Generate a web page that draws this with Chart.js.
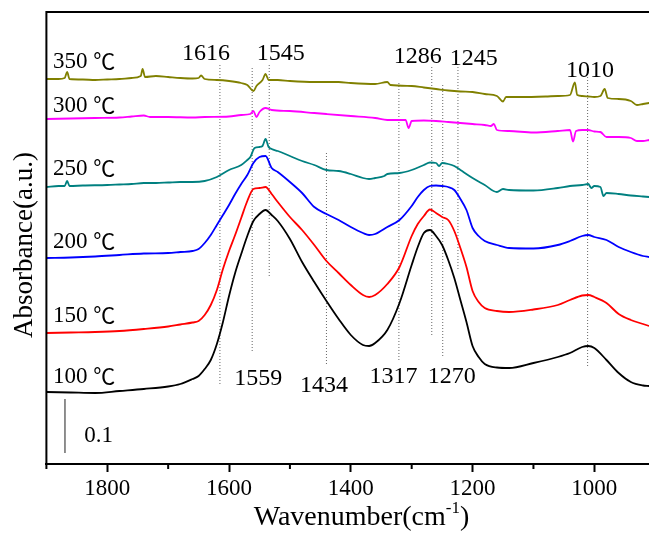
<!DOCTYPE html>
<html>
<head>
<meta charset="utf-8">
<script src="https://cdn.jsdelivr.net/npm/chart.js@4.4.1/dist/chart.umd.min.js"></script>
<style>
  html, body { margin: 0; padding: 0; overflow: hidden; background: #fff; }
  canvas { display: block; }
</style>
</head>
<body>
<canvas id="irChart" width="700" height="535"></canvas>
<script>
// In-situ IR spectra after desorption at several temperatures.
// Curves are stacked with an offset; heights are in arbitrary units
// (the "0.1" bar is 54 units tall).

// shared wavenumber grid for the three smooth low-temperature spectra
const wavenumbers = [1900, 1860, 1820, 1780, 1740, 1700, 1680, 1660, 1650, 1640,
    1630, 1620, 1610, 1600, 1590, 1580, 1570, 1560, 1550, 1540,
    1530, 1520, 1500, 1480, 1460, 1440, 1420, 1400, 1380, 1370,
    1360, 1340, 1320, 1300, 1290, 1280, 1270, 1260, 1250, 1240,
    1230, 1220, 1210, 1200, 1190, 1180, 1160, 1140, 1100, 1060,
    1040, 1020, 1010, 1000, 980, 960, 940, 920, 910];

const abs100 = [72, 71.5, 71, 73, 75, 77.5, 80, 85, 88, 95,
    104, 120, 142, 168, 191, 210, 228, 243, 250, 254,
    249, 243, 225, 202, 182, 163, 145, 129, 119, 118,
    121, 134, 161, 199, 217, 231, 234, 228, 219, 204,
    186, 164, 142, 118, 107, 100, 96.5, 96, 101, 107,
    111, 117, 118, 116, 104, 91, 82, 78.5, 78];

const abs150 = [131, 131.5, 132, 133, 135, 137.5, 139.5, 141.5, 143, 149,
    159, 174, 195, 213, 229, 246, 263, 275, 276, 277,
    270, 262, 247, 234, 219, 203, 191, 179, 169, 167,
    169, 180, 197, 228, 240, 248, 254.5, 251, 247, 244,
    233, 216, 197, 173, 162, 156, 153, 152, 154.5, 159,
    164, 168.5, 169, 167, 161, 150, 144, 140, 138];

const abs200 = [206, 206.5, 207.5, 209, 210.5, 211, 212, 213, 215, 221,
    229, 239, 249, 259, 270, 280, 289, 301, 307, 308,
    296, 292, 282, 271, 257, 250, 244, 237, 231, 229,
    230, 237, 244, 258, 267, 274, 278, 278.5, 278, 277,
    274, 265, 254, 236, 228, 223, 219, 216, 215.5, 219,
    223, 228, 229, 227, 224, 217, 212, 208, 207];

// the noisier high-temperature spectra keep their own grids (spikes included)
const wn250 = [1900, 1880, 1870, 1866, 1862, 1840, 1800, 1780, 1760, 1740,
    1720, 1700, 1680, 1660, 1640, 1620, 1600, 1580, 1570, 1565,
    1558, 1550, 1545, 1540, 1535, 1530, 1520, 1500, 1480, 1460,
    1440, 1420, 1400, 1380, 1370, 1360, 1345, 1340, 1320, 1300,
    1280, 1270, 1260, 1255, 1250, 1240, 1230, 1220, 1200, 1180,
    1160, 1150, 1140, 1100, 1060, 1040, 1020, 1010, 1005, 1000,
    990, 985, 980, 960, 940, 920, 910];
const abs250 = [277, 278, 278, 283, 278, 278.5, 279, 279.5, 280, 281,
    281, 281.5, 282, 282, 283, 287, 294, 299, 304, 307,
    316, 317, 318, 325, 317, 315, 313, 308, 303, 299,
    294, 293, 290, 286, 285, 286, 288, 290, 291, 294,
    299, 301.5, 301, 298, 301, 300, 298, 294, 286, 279,
    272, 275, 274, 273.5, 276, 278, 279, 280, 276, 278,
    277, 268, 271, 270, 268.5, 267.5, 267];

const wn300 = [1900, 1860, 1820, 1780, 1760, 1740, 1730, 1700, 1660, 1640,
    1600, 1580, 1565, 1560, 1555, 1550, 1540, 1530, 1500, 1460,
    1440, 1400, 1360, 1340, 1310, 1305, 1300, 1280, 1260, 1240,
    1220, 1200, 1180, 1170, 1165, 1160, 1140, 1100, 1060, 1040,
    1035, 1030, 1020, 1010, 1000, 990, 980, 960, 940, 930,
    920, 910];
const abs300 = [345, 345.5, 346, 346.5, 347.5, 348.5, 347, 347, 346.5, 347,
    347.5, 349, 350, 353, 347, 352, 356, 354, 353, 351,
    350, 348, 346, 344, 344, 336, 343, 343.5, 343, 342,
    341, 340, 339, 338, 340, 334, 333, 331.5, 333, 334,
    322.5, 333, 334, 334, 332.5, 332, 327, 327, 326, 323,
    323, 324];

const wn350 = [1900, 1880, 1870, 1866, 1862, 1840, 1820, 1800, 1780, 1760,
    1745, 1742, 1738, 1720, 1700, 1680, 1660, 1650, 1646, 1640,
    1620, 1600, 1580, 1570, 1560, 1555, 1545, 1540, 1535, 1520,
    1500, 1460, 1420, 1400, 1360, 1340, 1335, 1300, 1280, 1260,
    1240, 1220, 1200, 1180, 1160, 1150, 1145, 1120, 1080, 1060,
    1040, 1032, 1028, 1020, 1010, 1000, 990, 983, 978, 960,
    940, 930, 920, 910];
const abs350 = [385, 385, 386, 392, 385, 384.5, 384, 384.5, 385, 386,
    388, 395, 387, 388, 387, 386, 385.5, 386, 388.5, 385,
    384, 383, 381, 379, 373, 378, 384, 390, 384, 384,
    383, 382, 382, 381, 380, 382, 379, 378, 376.5, 375,
    373.5, 372.5, 372, 370, 368, 362.5, 367, 367, 367.5, 368,
    369, 381.5, 369, 368, 367.5, 367, 368, 375, 366, 365,
    363, 359, 360, 361];

// curve labels (left side): temperature and baseline height
const tempLabels = ['100', '150', '200', '250', '300', '350'];
const tempUnit = '\u2103';
const tempLabelY = [81, 142, 216, 289, 352, 396];
const tempLabelWn = 1889;

// dotted guide lines: position and vertical extent
const guideWn = [1615, 1562, 1534, 1440, 1321, 1267, 1249, 1224, 1011];
const guideTop = [399, 396, 399, 311, 381, 397, 379, 397, 387];
const guideBottom = [79, 112, 186, 99, 104, 129, 107, 194, 96];

// band labels above and below the spectra (centre wavenumber, baseline height)
const topBands = ['1616', '1545', '1286', '1245', '1010'];
const topBandWn = [1638, 1515, 1290, 1198, 1007];
const topBandY = [404, 404, 401, 399, 387];
const bottomBands = ['1559', '1434', '1317', '1270'];
const bottomBandWn = [1552, 1444, 1330, 1234];
const bottomBandY = [79, 72, 81, 81];

// 0.1 absorbance scale bar
const scaleBarWn = 1869.5;
const scaleBarY = [11, 65];
const scaleBarText = '0.1';
const scaleBarTextWn = 1838;
const scaleBarTextY = 22;

const xMajorTicks = [1000, 1200, 1400, 1600, 1800];
const xMinorTicks = [900, 1100, 1300, 1500, 1700, 1900];

const FONT = "'Liberation Serif', serif";
const UNIT_FONT = "'Noto Sans CJK SC', 'DejaVu Sans', sans-serif";

function pairs(xs, ys) {
    return xs.map(function (w, i) { return { x: w, y: ys[i] }; });
}

function curve(label, xs, ys, color) {
    return {
        label: label,
        data: pairs(xs, ys),
        borderColor: color,
        borderWidth: 1.8,
        pointRadius: 0,
        cubicInterpolationMode: 'monotone',
        fill: false,
        order: 0
    };
}

const datasets = [
    curve('100', wavenumbers, abs100, '#000000'),
    curve('150', wavenumbers, abs150, '#ff0000'),
    curve('200', wavenumbers, abs200, '#0000ff'),
    curve('250', wn250, abs250, '#008080'),
    curve('300', wn300, abs300, '#ff00ff'),
    curve('350', wn350, abs350, '#808000')
];

guideWn.forEach(function (w, i) {
    datasets.push({
        data: [{ x: w, y: guideTop[i] }, { x: w, y: guideBottom[i] }],
        borderColor: '#666',
        borderWidth: 1,
        borderDash: [1, 2],
        pointRadius: 0,
        order: 1
    });
});

datasets.push({
    data: [{ x: scaleBarWn, y: scaleBarY[0] }, { x: scaleBarWn, y: scaleBarY[1] }],
    borderColor: '#444',
    borderWidth: 1.2,
    pointRadius: 0,
    order: 1
});

// frame, minor ticks, annotations and the axis titles
const annotate = {
    id: 'annotate',
    afterDraw(chart) {
        const ctx = chart.ctx;
        const a = chart.chartArea;
        const x = chart.scales.x;
        const y = chart.scales.y;
        ctx.save();

        ctx.strokeStyle = '#000';
        ctx.lineWidth = 2;
        ctx.beginPath();
        ctx.moveTo(a.left, a.bottom);
        ctx.lineTo(a.left, a.top);
        ctx.lineTo(a.right, a.top);
        ctx.stroke();

        xMinorTicks.forEach(function (w) {
            const px = x.getPixelForValue(w);
            ctx.beginPath();
            ctx.moveTo(px, a.bottom);
            ctx.lineTo(px, a.bottom + 5);
            ctx.stroke();
        });

        ctx.fillStyle = '#000';
        ctx.textBaseline = 'alphabetic';
        ctx.textAlign = 'left';

        tempLabels.forEach(function (t, i) {
            const px = x.getPixelForValue(tempLabelWn);
            const py = y.getPixelForValue(tempLabelY[i]);
            ctx.font = '23px ' + FONT;
            const w = ctx.measureText(t + ' ').width;
            ctx.fillText(t + ' ', px, py);
            ctx.font = '22px ' + UNIT_FONT;
            ctx.fillText(tempUnit, px + w, py + 1);
        });
        ctx.font = '23px ' + FONT;
        ctx.fillText(scaleBarText, x.getPixelForValue(scaleBarTextWn), y.getPixelForValue(scaleBarTextY));

        ctx.font = '24px ' + FONT;
        ctx.textAlign = 'center';
        topBands.forEach(function (t, i) {
            ctx.fillText(t, x.getPixelForValue(topBandWn[i]), y.getPixelForValue(topBandY[i]));
        });
        bottomBands.forEach(function (t, i) {
            ctx.fillText(t, x.getPixelForValue(bottomBandWn[i]), y.getPixelForValue(bottomBandY[i]));
        });

        // x title with superscript
        const big = '28px ' + FONT;
        const small = '17px ' + FONT;
        const p1 = 'Wavenumber(cm', sup = '-1', p2 = ')';
        ctx.textAlign = 'left';
        ctx.font = big;
        const w1 = ctx.measureText(p1).width, w3 = ctx.measureText(p2).width;
        ctx.font = small;
        const w2 = ctx.measureText(sup).width;
        const sx = 361.5 - (w1 + w2 + w3) / 2;
        const base = 525;
        ctx.font = big;
        ctx.fillText(p1, sx, base);
        ctx.font = small;
        ctx.fillText(sup, sx + w1, base - 12);
        ctx.font = big;
        ctx.fillText(p2, sx + w1 + w2, base);

        // y title
        ctx.translate(32, 245);
        ctx.rotate(-Math.PI / 2);
        ctx.textAlign = 'center';
        ctx.font = '27px ' + FONT;
        ctx.fillText('Absorbance(a.u.)', 0, 0);

        ctx.restore();
    }
};

new Chart(document.getElementById('irChart'), {
    type: 'line',
    data: { datasets: datasets },
    options: {
        responsive: false,
        animation: false,
        devicePixelRatio: 1,
        layout: { padding: { top: 12, left: 46.4, right: 44.8, bottom: 0 } },
        plugins: { legend: { display: false }, tooltip: { enabled: false } },
        scales: {
            x: {
                type: 'linear',
                reverse: true,
                min: 900,
                max: 1900,
                afterFit: function (scale) { scale.height = 71; },
                afterBuildTicks: function (scale) {
                    scale.ticks = xMajorTicks.map(function (v) { return { value: v }; });
                },
                grid: {
                    drawOnChartArea: false,
                    drawTicks: true,
                    tickLength: 8,
                    tickWidth: 2,
                    tickColor: '#000'
                },
                border: { display: true, color: '#000', width: 2 },
                ticks: {
                    autoSkip: false,
                    maxRotation: 0,
                    padding: 3,
                    color: '#000',
                    font: { family: FONT, size: 23 },
                    callback: function (v) { return String(v); }
                }
            },
            y: {
                type: 'linear',
                display: false,
                min: 0,
                max: 452
            }
        }
    },
    plugins: [annotate]
});
</script>
</body>
</html>
